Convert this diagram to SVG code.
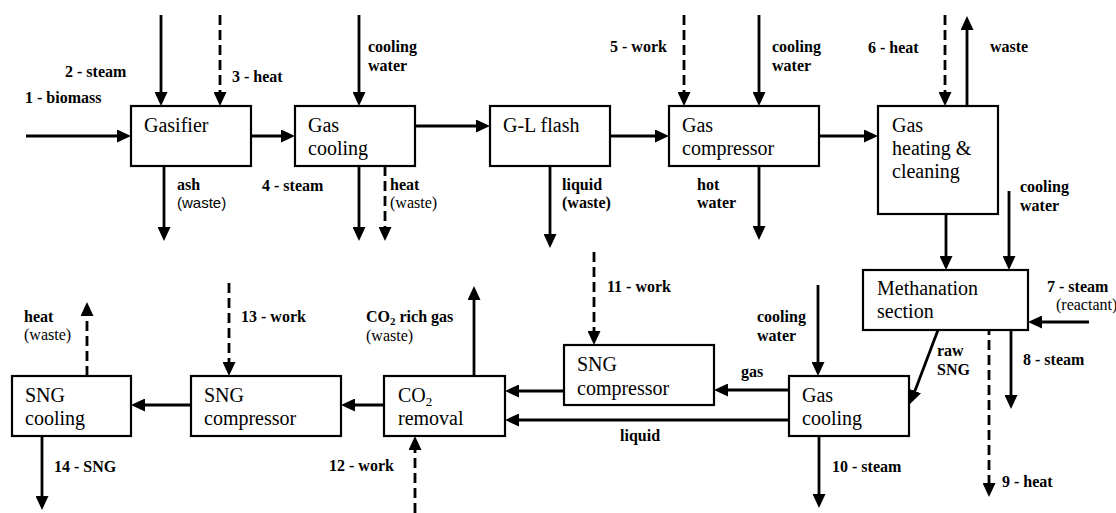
<svg xmlns="http://www.w3.org/2000/svg" width="1116" height="513" viewBox="0 0 1116 513">
<defs>
<marker id="ah" viewBox="0 0 14 13" markerWidth="14" markerHeight="13" refX="10" refY="6.5" orient="auto" markerUnits="userSpaceOnUse">
<path d="M0,0 L14,6.5 L0,13 z" fill="#000" stroke="none"/>
</marker>
<style>
.box{fill:#fff;stroke:#000;stroke-width:2.2}
.bt{font-family:'Liberation Serif','Times New Roman',serif;font-size:20px;fill:#000}
.lb{font-family:'Liberation Serif','Times New Roman',serif;font-size:16px;font-weight:bold;fill:#000}
.ln{font-family:'Liberation Serif','Times New Roman',serif;font-size:16px;fill:#000}
.la{font-family:'Liberation Sans',Arial,sans-serif;font-size:15px;fill:#000}
.c{fill:none;stroke:#000;stroke-width:2.8;marker-end:url(#ah)}
.d{stroke-dasharray:10,5}
</style>
</defs>
<rect width="1116" height="513" fill="#fff"/>

<g id="connectors">
<line class="c" x1="26" y1="136" x2="127" y2="136"/>
<line class="c" x1="161" y1="15" x2="161" y2="102"/>
<line class="c d" x1="220" y1="15" x2="220" y2="102"/>
<line class="c" x1="164" y1="166" x2="164" y2="237"/>
<line class="c" x1="251" y1="136" x2="291" y2="136"/>
<line class="c" x1="359" y1="15" x2="359" y2="102"/>
<line class="c" x1="359" y1="166" x2="359" y2="237"/>
<line class="c d" x1="385" y1="166" x2="385" y2="237"/>
<line class="c" x1="415" y1="126" x2="486" y2="126"/>
<line class="c" x1="610" y1="136" x2="665" y2="136"/>
<line class="c" x1="550" y1="166" x2="550" y2="244"/>
<line class="c d" x1="684" y1="15" x2="684" y2="102"/>
<line class="c" x1="759" y1="15" x2="759" y2="102"/>
<line class="c" x1="759" y1="166" x2="759" y2="236"/>
<line class="c" x1="819" y1="136" x2="874" y2="136"/>
<line class="c d" x1="945" y1="15" x2="945" y2="102"/>
<line class="c" x1="967" y1="106" x2="967" y2="20"/>
<line class="c" x1="946" y1="214" x2="946" y2="266"/>
<line class="c" x1="1009" y1="191" x2="1009" y2="266"/>
<line class="c" x1="1089" y1="322" x2="1032" y2="322"/>
<line class="c" x1="1011" y1="330" x2="1011" y2="405"/>
<line class="c d" x1="989" y1="325" x2="989" y2="493"/>
<line class="c" x1="938" y1="330" x2="911.4" y2="400.3"/>
<line class="c" x1="818" y1="285" x2="818" y2="372"/>
<line class="c" x1="819" y1="436" x2="819" y2="504"/>
<line class="c" x1="789" y1="390" x2="718" y2="390"/>
<line class="c" x1="789" y1="420" x2="509" y2="420"/>
<line class="c d" x1="594" y1="252" x2="594" y2="341"/>
<line class="c" x1="564" y1="391" x2="509" y2="391"/>
<line class="c" x1="474" y1="376" x2="474" y2="290"/>
<line class="c d" x1="415" y1="513" x2="415" y2="440"/>
<line class="c" x1="384" y1="405" x2="345" y2="405"/>
<line class="c d" x1="229" y1="283" x2="229" y2="372"/>
<line class="c" x1="191" y1="405" x2="135" y2="405"/>
<line class="c d" x1="87" y1="376" x2="87" y2="306"/>
<line class="c" x1="42" y1="436" x2="42" y2="506"/>
</g>

<g id="gasifier"><rect class="box" x="131" y="106" width="120" height="60"/><text class="bt" x="144" y="132">Gasifier</text></g>
<g id="gas-cooling-1"><rect class="box" x="295" y="106" width="120" height="60"/><text class="bt" x="308" y="132">Gas</text><text class="bt" x="308" y="155">cooling</text></g>
<g id="gl-flash"><rect class="box" x="490" y="106" width="120" height="60"/><text class="bt" x="503" y="132">G-L flash</text></g>
<g id="gas-compressor"><rect class="box" x="669" y="106" width="150" height="60"/><text class="bt" x="682" y="132">Gas</text><text class="bt" x="682" y="155">compressor</text></g>
<g id="gas-heating"><rect class="box" x="878" y="106" width="120" height="108"/><text class="bt" x="892" y="132">Gas</text><text class="bt" x="892" y="155">heating &amp;</text><text class="bt" x="892" y="178">cleaning</text></g>
<g id="methanation"><rect class="box" x="863" y="270" width="165" height="60"/><text class="bt" x="877" y="295">Methanation</text><text class="bt" x="877" y="318">section</text></g>
<g id="gas-cooling-2"><rect class="box" x="789" y="376" width="120" height="60"/><text class="bt" x="802" y="402">Gas</text><text class="bt" x="802" y="425">cooling</text></g>
<g id="sng-compressor-1"><rect class="box" x="564" y="345" width="150" height="60"/><text class="bt" x="577" y="371">SNG</text><text class="bt" x="577" y="395">compressor</text></g>
<g id="co2-removal"><rect class="box" x="384" y="376" width="121" height="60"/><text class="bt" x="398" y="402">CO<tspan font-size="13" dy="4">2</tspan></text><text class="bt" x="398" y="425">removal</text></g>
<g id="sng-compressor-2"><rect class="box" x="191" y="376" width="150" height="60"/><text class="bt" x="204" y="402">SNG</text><text class="bt" x="204" y="425">compressor</text></g>
<g id="sng-cooling"><rect class="box" x="12" y="376" width="119" height="60"/><text class="bt" x="25" y="402">SNG</text><text class="bt" x="25" y="425">cooling</text></g>

<g id="labels">
<text class="lb" x="25" y="103">1 - biomass</text>
<text class="lb" x="65" y="77">2 - steam</text>
<text class="lb" x="232" y="82">3 - heat</text>
<text class="lb" x="177" y="190">ash</text>
<text class="la" x="177" y="208">(waste)</text>
<text class="lb" x="262" y="191">4 - steam</text>
<text class="lb" x="368" y="52">cooling</text>
<text class="lb" x="368" y="71">water</text>
<text class="lb" x="390" y="190">heat</text>
<text class="ln" x="390" y="208">(waste)</text>
<text class="lb" x="562" y="190">liquid</text>
<text class="lb" x="562" y="208">(waste)</text>
<text class="lb" x="610" y="52">5 - work</text>
<text class="lb" x="697" y="190">hot</text>
<text class="lb" x="697" y="208">water</text>
<text class="lb" x="772" y="52">cooling</text>
<text class="lb" x="772" y="71">water</text>
<text class="lb" x="868" y="53">6 - heat</text>
<text class="lb" x="990" y="52">waste</text>
<text class="lb" x="1020" y="192">cooling</text>
<text class="lb" x="1020" y="211">water</text>
<text class="lb" x="1047" y="292">7 - steam</text>
<text class="ln" x="1056" y="310">(reactant)</text>
<text class="lb" x="1023" y="365">8 - steam</text>
<text class="lb" x="1002" y="487">9 - heat</text>
<text class="lb" x="937" y="356">raw</text>
<text class="lb" x="937" y="375">SNG</text>
<text class="lb" x="757" y="322">cooling</text>
<text class="lb" x="757" y="341">water</text>
<text class="lb" x="741" y="377">gas</text>
<text class="lb" x="620" y="441">liquid</text>
<text class="lb" x="832" y="472">10 - steam</text>
<text class="lb" x="607" y="292">11 - work</text>
<text class="lb" x="366" y="322">CO<tspan font-size="11" dy="3">2</tspan><tspan dy="-3"> rich gas</tspan></text>
<text class="ln" x="366" y="341">(waste)</text>
<text class="lb" x="329" y="471">12 - work</text>
<text class="lb" x="241" y="322">13 - work</text>
<text class="lb" x="24" y="322">heat</text>
<text class="ln" x="24" y="340">(waste)</text>
<text class="lb" x="54" y="472">14 - SNG</text>
</g>
</svg>
